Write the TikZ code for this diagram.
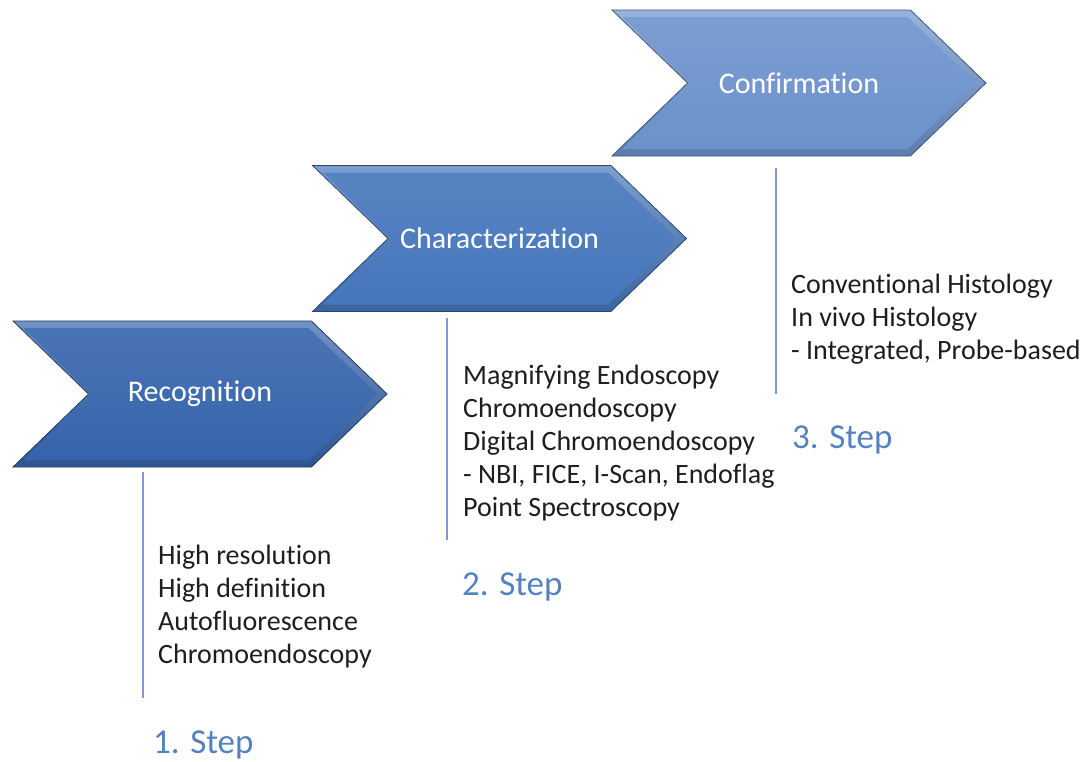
\documentclass[tikz,border=0pt]{standalone}
\usepackage{fontspec}
\setmainfont{Carlito}[Ligatures=NoCommon]
\usetikzlibrary{shapes.symbols,positioning}
\definecolor{chevA}{RGB}{54,100,172}
\definecolor{chevB}{RGB}{70,118,188}
\definecolor{chevC}{RGB}{108,146,204}
\definecolor{stepblue}{RGB}{84,130,192}
\definecolor{rule}{RGB}{125,155,205}
\definecolor{ink}{RGB}{30,30,30}

\begin{document}
\begin{tikzpicture}[x=1pt,y=-1pt,
    chevron/.style={signal,signal from=west,signal to=east,signal pointer angle=88,
      inner sep=0pt,minimum width=374pt,minimum height=146pt},
    bevel/.style={chevron,minimum width=354pt,minimum height=132pt},
    stepline/.style={rule,line width=1.6pt},
    itemtext/.style={anchor=base west,align=left,inner xsep=0pt,text=ink,font=\fontsize{28}{33}\selectfont},
    steplabel/.style={anchor=base west,inner xsep=0pt,text=stepblue,font=\fontsize{35}{38}\selectfont}]
  \useasboundingbox (0,0) rectangle (1085,761);

  % the three chevrons
  \foreach \t/\c [count=\i from 0] in {Recognition/chevA, Characterization/chevB, Confirmation/chevC}
  {
    \node[chevron,top color=\c!70!white,bottom color=\c!85!black,draw=\c!60!black,line width=0.8pt] (c\i) at (200+\i*299.5,394-\i*155.5) {};
    \node[bevel,top color=\c!90!white,bottom color=\c,text=white,font=\fontsize{30}{32}\selectfont] (l\i) at (c\i.center) {\t};
  }

  % vertical rules
  \draw[stepline] (143,472) -- (143,698);
  \draw[stepline] (447,318) -- (447,540);
  \draw[stepline] (776,168) -- (776,394);

  % item lists (base = last line)
  \node[itemtext] (t0) at (158,663) {High resolution\\High definition\\Autofluorescence\\Chromoendoscopy};
  \node[itemtext] (t1) at (463,516) {Magnifying Endoscopy\\Chromoendoscopy\\Digital Chromoendoscopy\\- NBI, FICE, I-Scan, Endoflag\\Point Spectroscopy};
  \node[itemtext] (t2) at (791,359) {Conventional Histology\\In vivo Histology\\- Integrated, Probe-based};

  % step labels
  \node[steplabel] (s0) at (153,753) {1. Step};
  \node[steplabel] (s1) at (462,595) {2. Step};
  \node[steplabel] (s2) at (792,448) {3. Step};
\end{tikzpicture}
\end{document}
